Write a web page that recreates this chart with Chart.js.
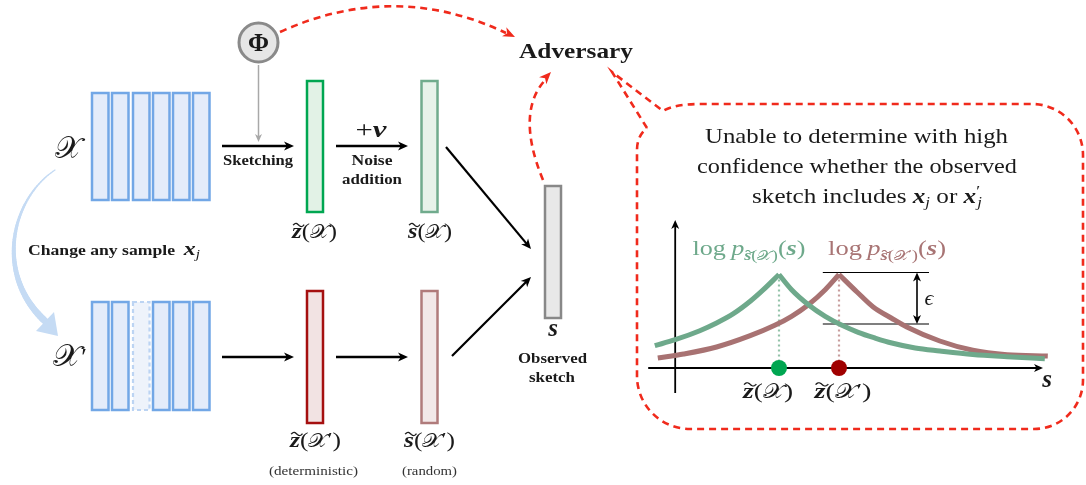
<!DOCTYPE html>
<html><head><meta charset="utf-8">
<script src="https://cdn.jsdelivr.net/npm/chart.js@4/dist/chart.umd.min.js"></script>
<style>html,body{margin:0;padding:0;background:#fff;}#wrap{width:1086px;height:485px;position:relative;}</style>
</head><body><div id="wrap"><canvas id="c" width="1086" height="485"></canvas></div>
<script>
// ---- data (s on x, log-density on y) ----
const greenS    = [-0.07, 0.27, 0.68, 0.96, 1.24, 1.52, 1.74, 2.00, 2.21, 2.49, 2.77, 3.05, 3.32, 3.60, 3.88, 4.27, 4.68, 5.23, 5.80, 6.43];
const greenLogP = [0.223, 0.283, 0.373, 0.45, 0.543, 0.667, 0.783, 0.935, 0.783, 0.633, 0.517, 0.427, 0.357, 0.30, 0.25, 0.20, 0.17, 0.135, 0.113, 0.093];
const redS      = [-0.02, 0.41, 0.96, 1.52, 1.93, 2.21, 2.49, 2.77, 3.00, 3.30, 3.57, 3.87, 4.13, 4.68, 5.23, 5.80, 6.48];
const redLogP   = [0.10, 0.14, 0.21, 0.323, 0.427, 0.517, 0.633, 0.783, 0.935, 0.76, 0.61, 0.50, 0.41, 0.27, 0.177, 0.133, 0.12];
const zTilde    = [2.0, 3.0];          // deterministic sketches z~(X), z~(X')
const epsilonBand = [0.44, 0.955];     // lower / upper level of the epsilon bracket
const blockCount = 6;                  // samples in the dataset
const bubbleLines = ['Unable to determine with high', 'confidence whether the observed'];

const GREEN = '#6ea98b', RED = '#a87272';
const SERIF = '"Liberation Serif","DejaVu Serif",serif';
const SCX = '\u{1D4B3}';
const fnt = (st, sz) => (st ? st + ' ' : '') + sz + 'px ' + SERIF;
const fX = sz => sz + 'px "DejaVu Serif","DejaVu Sans","Noto Sans",serif';

function branch(sArr, yArr, left) {
  const k = yArr.indexOf(Math.max(...yArr));
  const out = [];
  for (let i = 0; i < sArr.length; i++) if (left ? i <= k : i >= k) out.push({x: sArr[i], y: yArr[i]});
  return out;
}
function drawTilde(ctx, cx, ty, tw, a, lw) {
  ctx.save(); ctx.lineWidth = lw; ctx.beginPath();
  for (let k = 0; k <= 24; k++) { const t = k / 24; const px = cx - tw / 2 + tw * t; const py = ty - a * Math.sin(2 * Math.PI * t) + a * 0.3 * (0.5 - t);
    if (k === 0) ctx.moveTo(px, py); else ctx.lineTo(px, py); }
  ctx.stroke(); ctx.restore();
}
function rich(ctx, parts, x, y, color, targetW, align) {
  align = align || 'center';
  ctx.save(); ctx.textBaseline = 'alphabetic'; ctx.textAlign = 'left';
  let total = 0; const ws = [];
  for (const p of parts) { ctx.font = p.font; const w = ctx.measureText(p.t).width; ws.push(w); total += (p.pre || 0); if (p.adv !== false) total += w; }
  const sx = targetW ? targetW / total : 1;
  const x0 = align === 'center' ? x - total * sx / 2 : align === 'right' ? x - total * sx : x;
  ctx.translate(x0, y); ctx.scale(sx, 1);
  let cx = 0;
  parts.forEach((p, i) => {
    cx += (p.pre || 0);
    ctx.font = p.font; ctx.fillStyle = p.color || color; ctx.strokeStyle = p.color || color;
    ctx.fillText(p.t, cx, p.dy || 0);
    if (p.tilde) drawTilde(ctx, cx + ws[i] / 2 + (p.tsk || 1.5), (p.dy || 0) + p.ty, p.tw || ws[i] * 1.15, p.ta || 1.6, p.tlw || 1.3);
    if (p.adv !== false) cx += ws[i];
  });
  ctx.restore();
}
function txt(ctx, s, x, y, font, color, w) { rich(ctx, [{t: s, font: font}], x, y, color, w, 'center'); }
function head(ctx, tx, ty, dx, dy, len, hw, color) {
  const L = Math.hypot(dx, dy), ux = dx / L, uy = dy / L, px = -uy, py = ux;
  const bx = tx - ux * len, by = ty - uy * len;
  ctx.save(); ctx.fillStyle = color; ctx.setLineDash([]); ctx.beginPath();
  ctx.moveTo(tx, ty); ctx.lineTo(bx + px * hw, by + py * hw); ctx.lineTo(tx - ux * len * 0.72, ty - uy * len * 0.72); ctx.lineTo(bx - px * hw, by - py * hw);
  ctx.closePath(); ctx.fill(); ctx.restore();
}
function arrow(ctx, x1, y1, x2, y2, lw, color, len, hw) {
  const L = Math.hypot(x2 - x1, y2 - y1), ux = (x2 - x1) / L, uy = (y2 - y1) / L;
  ctx.save(); ctx.strokeStyle = color; ctx.lineWidth = lw; ctx.beginPath(); ctx.moveTo(x1, y1); ctx.lineTo(x2 - ux * len * 0.6, y2 - uy * len * 0.6); ctx.stroke(); ctx.restore();
  head(ctx, x2, y2, x2 - x1, y2 - y1, len, hw, color);
}
function box(ctx, x, y, w, h, fill, stroke, lw, dash) {
  ctx.save(); ctx.fillStyle = fill; ctx.fillRect(x, y, w, h);
  ctx.strokeStyle = stroke; ctx.lineWidth = lw; if (dash) ctx.setLineDash(dash); ctx.strokeRect(x, y, w, h); ctx.restore();
}
const tz = (sz) => ({t: 'z', font: fnt('bold italic', sz), tilde: true, ty: -sz * 0.62, ta: sz * 0.08, tlw: 1.2});
const ts = (sz) => ({t: 's', font: fnt('bold italic', sz), tilde: true, ty: -sz * 0.62, ta: sz * 0.08, tlw: 1.2});
function setLabel(first, sz, prime) {
  const p = [first, {t: '(', font: fnt('', sz)}, {t: SCX, font: fX(sz * 0.92)}];
  if (prime) p.push({t: '\u2032', font: fnt('', sz * 0.85), dy: -1});
  p.push({t: ')', font: fnt('', sz)});
  return p;
}

const diagram = {
  id: 'diagram',
  beforeDatasetsDraw(chart) {
    const ctx = chart.ctx, xs = chart.scales.x, ys = chart.scales.y;
    const X = v => xs.getPixelForValue(v), Y = v => ys.getPixelForValue(v);
    ctx.save();
    // axes
    arrow(ctx, X(-0.18), Y(0), X(6.4), Y(0), 1.8, '#000', 9, 4);
    arrow(ctx, X(0.27), Y(-0.25), X(0.27), Y(1.48), 1.8, '#000', 9, 4);
    // dotted verticals
    const gk = greenLogP.indexOf(Math.max(...greenLogP)), rk = redLogP.indexOf(Math.max(...redLogP));
    ctx.lineWidth = 2.2; ctx.setLineDash([2, 3]);
    ctx.strokeStyle = '#93c3a9'; ctx.beginPath(); ctx.moveTo(X(greenS[gk]), Y(greenLogP[gk])); ctx.lineTo(X(greenS[gk]), Y(0)); ctx.stroke();
    ctx.strokeStyle = '#c79c9c'; ctx.beginPath(); ctx.moveTo(X(redS[rk]), Y(redLogP[rk])); ctx.lineTo(X(redS[rk]), Y(0)); ctx.stroke();
    ctx.setLineDash([]);
    // epsilon bracket
    const rp = redS[rk];
    ctx.strokeStyle = '#000'; ctx.lineWidth = 1.2;
    epsilonBand.forEach(v => { ctx.beginPath(); ctx.moveTo(X(rp - 0.27), Y(v)); ctx.lineTo(X(rp + 1.5), Y(v)); ctx.stroke(); });
    const ax = X(rp + 1.3);
    ctx.lineWidth = 1.6; ctx.beginPath(); ctx.moveTo(ax, Y(epsilonBand[1]) + 6); ctx.lineTo(ax, Y(epsilonBand[0]) - 6); ctx.stroke();
    head(ctx, ax, Y(epsilonBand[1]), 0, -1, 9, 4, '#000');
    head(ctx, ax, Y(epsilonBand[0]), 0, 1, 9, 4, '#000');
    ctx.restore();
  },
  afterDraw(chart) {
    const ctx = chart.ctx, xs = chart.scales.x, ys = chart.scales.y;
    const X = v => xs.getPixelForValue(v), Y = v => ys.getPixelForValue(v);
    const INK = '#1a1a1a';
    ctx.save();
    // ---- plot texts ----
    const gk = greenLogP.indexOf(Math.max(...greenLogP)), rk = redLogP.indexOf(Math.max(...redLogP));
    const lp = (col, prime) => {
      const p = [{t: 'log\u2009', font: fnt('', 20)}, {t: 'p', font: fnt('italic', 20)},
        {t: 's', font: fnt('bold italic', 14), dy: 5, tilde: true, ty: -8.5, ta: 1.2, tlw: 1}, {t: '(', font: fnt('', 14), dy: 5},
        {t: SCX, font: fX(13), dy: 5}];
      if (prime) p.push({t: '\u2032', font: fnt('', 11), dy: 2});
      p.push({t: ')', font: fnt('', 14), dy: 5}, {t: '(', font: fnt('', 20)}, {t: 's', font: fnt('bold italic', 20)}, {t: ')', font: fnt('', 20)});
      return p;
    };
    rich(ctx, lp(GREEN, false), X(greenS[gk]) - 30, 255, GREEN, 113);
    rich(ctx, lp(RED, true), X(redS[rk]) + 48, 255, '#a87474', 118);
    rich(ctx, setLabel(tz(22), 22, false), X(zTilde[0]) - 11, 398, INK, 50);
    rich(ctx, setLabel(tz(22), 22, true), X(zTilde[1]) + 4, 398, INK, 57);
    txt(ctx, 's', 1047, 387, fnt('bold italic', 25), INK);
    txt(ctx, '\u03F5', 929, 305, fnt('italic', 22), INK);

    // ---- left diagram ----
    const bx = [92, 112, 133, 153, 173, 193];
    for (let i = 0; i < blockCount; i++) {
      box(ctx, bx[i], 93, 16.5, 107, '#e4ecfa', '#72a7e6', 2.5);
      if (i === 2) box(ctx, bx[i], 302, 16.5, 108, '#eef3fb', '#bcd4f3', 2.2, [4, 3]);
      else box(ctx, bx[i], 302, 16.5, 108, '#e4ecfa', '#72a7e6', 2.5);
    }
    box(ctx, 307, 81, 16, 131, '#e2f2e6', '#00a651', 2.5);
    box(ctx, 421.5, 81, 16, 131, '#e7f2ea', '#70ab8d', 2.5);
    box(ctx, 307, 291, 16, 132, '#f2e3e3', '#a50f0f', 2.5);
    box(ctx, 421.5, 291, 16, 132, '#f2e8e8', '#b07b7b', 2.5);
    box(ctx, 545, 186, 16, 132, '#e8e8e8', '#888888', 2.5);

    // Phi
    ctx.beginPath(); ctx.arc(258.5, 42.5, 19.5, 0, Math.PI * 2); ctx.fillStyle = '#e6e6e6'; ctx.fill();
    ctx.lineWidth = 3; ctx.strokeStyle = '#8a8a8a'; ctx.stroke();
    txt(ctx, '\u03A6', 258.5, 51, fnt('bold', 25), INK, 21);
    arrow(ctx, 258.5, 65, 258.5, 142, 1.5, '#a8a8a8', 8, 3.5);

    // black arrows
    arrow(ctx, 222, 146, 294, 146, 2.4, '#000', 10, 4.5);
    arrow(ctx, 336, 146, 408, 146, 2.4, '#000', 10, 4.5);
    arrow(ctx, 222, 357, 294, 357, 2.4, '#000', 10, 4.5);
    arrow(ctx, 336, 357, 408, 357, 2.4, '#000', 10, 4.5);
    arrow(ctx, 446, 147, 531, 249, 2.2, '#000', 10, 4.5);
    arrow(ctx, 452, 356, 531, 277, 2.2, '#000', 10, 4.5);

    // texts
    txt(ctx, 'Sketching', 258, 165, fnt('bold', 14), INK, 70);
    rich(ctx, [{t: '+', font: fnt('', 23)}, {t: 'v', font: fnt('bold italic', 23)}], 371, 137, INK, 31);
    txt(ctx, 'Noise', 372, 165, fnt('bold', 14), INK, 41);
    txt(ctx, 'addition', 372, 184, fnt('bold', 14), INK, 60);
    rich(ctx, setLabel(tz(21), 21, false), 314.5, 238, INK, 45);
    rich(ctx, setLabel(ts(21), 21, false), 430, 238, INK, 44);
    rich(ctx, setLabel(tz(21), 21, true), 315.5, 447, INK, 51);
    rich(ctx, setLabel(ts(21), 21, true), 429.5, 447, INK, 51);
    txt(ctx, '(deterministic)', 313.5, 475, fnt('', 13), '#333', 89);
    txt(ctx, '(random)', 429.5, 475, fnt('', 13), '#333', 55);
    txt(ctx, 's', 553, 336, fnt('bold italic', 25), INK);
    txt(ctx, 'Observed', 552.5, 363, fnt('bold', 14), INK, 69);
    txt(ctx, 'sketch', 552, 382, fnt('bold', 14), INK, 46);
    txt(ctx, 'Adversary', 576, 58, fnt('bold', 22), INK, 114);
    txt(ctx, SCX, 68.5, 158, fX(30), INK, 27);
    rich(ctx, [{t: SCX, font: fX(30)}, {t: '\u2032', font: fnt('', 24), dy: -2}], 70, 366, INK, 34);
    rich(ctx, [{t: 'Change any sample\u2002', font: fnt('bold', 14)}, {t: 'x', font: fnt('bold italic', 19)}, {t: 'j', font: fnt('italic', 12), dy: 3}], 28, 255, INK, 172, 'left');

    // blue tapered curved arrow
    const P = [[55, 170], [10, 200], [-5, 275], [45, 321]];
    const bz = (t, k) => (1 - t) ** 3 * P[0][k] + 3 * (1 - t) ** 2 * t * P[1][k] + 3 * (1 - t) * t * t * P[2][k] + t ** 3 * P[3][k];
    ctx.strokeStyle = '#c5dbf4'; ctx.lineCap = 'round';
    for (let i = 0; i < 60; i++) {
      const t0 = i / 60, t1 = (i + 1) / 60;
      ctx.lineWidth = 1.2 + 5.8 * Math.pow(t1, 1.3);
      ctx.beginPath(); ctx.moveTo(bz(t0, 0), bz(t0, 1)); ctx.lineTo(bz(t1, 0), bz(t1, 1)); ctx.stroke();
    }
    ctx.lineCap = 'butt';
    ctx.fillStyle = '#c5dbf4'; ctx.beginPath(); ctx.moveTo(58, 336); ctx.lineTo(36, 331); ctx.lineTo(54, 312); ctx.closePath(); ctx.fill();

    // red dashed arrows
    const RD = '#f02a1c';
    ctx.strokeStyle = RD; ctx.lineWidth = 2.6; ctx.setLineDash([7, 5]);
    ctx.beginPath(); ctx.moveTo(280, 32); ctx.quadraticCurveTo(395, -20, 506, 33); ctx.stroke();
    ctx.beginPath(); ctx.moveTo(543, 180); ctx.quadraticCurveTo(515, 112, 546, 79); ctx.stroke();
    ctx.setLineDash([]);
    head(ctx, 515, 37, 120, 57, 12, 5, RD);
    head(ctx, 551, 72, 36, -38, 12, 5, RD);
    // speech bubble
    ctx.setLineDash([7, 5]); ctx.lineWidth = 2.6; ctx.strokeStyle = RD;
    ctx.beginPath();
    ctx.moveTo(647, 128); ctx.lineTo(612, 72); ctx.lineTo(663, 111);
    ctx.quadraticCurveTo(675, 104, 700, 104);
    ctx.lineTo(1032, 104); ctx.arcTo(1083, 104, 1083, 155, 51);
    ctx.lineTo(1083, 380); ctx.arcTo(1083, 429, 1034, 429, 49);
    ctx.lineTo(690, 429); ctx.arcTo(637, 429, 637, 376, 53);
    ctx.lineTo(637, 150); ctx.quadraticCurveTo(637, 136, 647, 128);
    ctx.stroke(); ctx.setLineDash([]);
    // bubble text
    txt(ctx, bubbleLines[0], 856.5, 143, fnt('', 21), INK, 303);
    txt(ctx, bubbleLines[1], 857, 173, fnt('', 21), INK, 320);
    rich(ctx, [{t: 'sketch includes ', font: fnt('', 21)}, {t: 'x', font: fnt('bold italic', 21)}, {t: 'j', font: fnt('italic', 14), dy: 4},
      {t: ' or ', font: fnt('', 21)}, {t: 'x', font: fnt('bold italic', 21)}, {t: '\u2032', font: fnt('', 15), dy: -7, adv: false}, {t: 'j', font: fnt('italic', 14), dy: 4, pre: 1}],
      867, 203, INK, 230);
    ctx.restore();
  }
};

new Chart(document.getElementById('c'), {
  type: 'line',
  data: {
    datasets: [
      {label: 'z', data: zTilde.map(v => ({x: v, y: 0})), showLine: false, pointRadius: 8, pointHoverRadius: 8, borderWidth: 0,
        pointBackgroundColor: ['#00a651', '#a00000'], pointBorderColor: ['#00a651', '#a00000'], clip: false},
      {label: 'gL', data: branch(greenS, greenLogP, true), borderColor: GREEN, borderWidth: 5, pointRadius: 0, cubicInterpolationMode: 'monotone', clip: false},
      {label: 'gR', data: branch(greenS, greenLogP, false), borderColor: GREEN, borderWidth: 5, pointRadius: 0, cubicInterpolationMode: 'monotone', clip: false},
      {label: 'rL', data: branch(redS, redLogP, true), borderColor: RED, borderWidth: 5, pointRadius: 0, cubicInterpolationMode: 'monotone', clip: false},
      {label: 'rR', data: branch(redS, redLogP, false), borderColor: RED, borderWidth: 5, pointRadius: 0, cubicInterpolationMode: 'monotone', clip: false}
    ]
  },
  options: {
    responsive: false, animation: false, events: [],
    layout: {padding: {left: 647, right: 37, top: 218, bottom: 117}},
    scales: {x: {type: 'linear', min: -0.2, max: 6.5, display: false}, y: {type: 'linear', min: 0, max: 1.5, display: false}},
    plugins: {legend: {display: false}, tooltip: {enabled: false}}
  },
  plugins: [diagram]
});
</script></body></html>
